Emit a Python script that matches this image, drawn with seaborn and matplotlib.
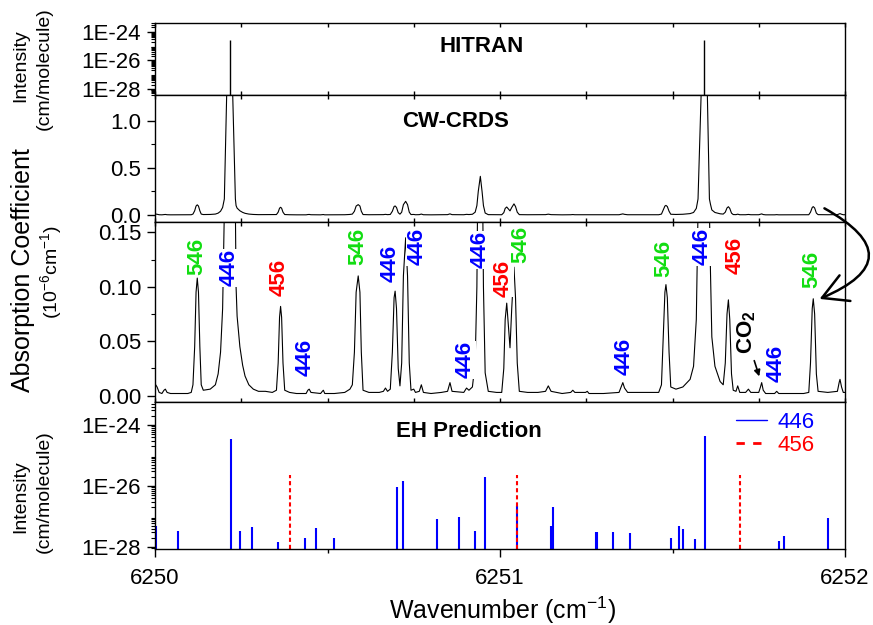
import numpy as np
import pandas as pd
import seaborn as sns
import matplotlib.pyplot as plt
from matplotlib import ticker
from matplotlib.lines import Line2D
from matplotlib.patches import FancyArrowPatch

# CW-CRDS trace, absorption coefficient in 1e-6 cm-1
spec_wn = [
    6250.000, 6250.006, 6250.012, 6250.020, 6250.026, 6250.030, 6250.035, 6250.045,
    6250.070, 6250.095, 6250.105, 6250.110, 6250.115, 6250.119, 6250.1225, 6250.126,
    6250.130, 6250.134, 6250.140, 6250.160, 6250.175, 6250.183, 6250.190, 6250.196,
    6250.201, 6250.2078, 6250.2165, 6250.2252, 6250.233, 6250.235, 6250.238, 6250.246,
    6250.254, 6250.261, 6250.272, 6250.285, 6250.300, 6250.320, 6250.340, 6250.352,
    6250.357, 6250.361, 6250.364, 6250.367, 6250.371, 6250.376, 6250.390, 6250.410,
    6250.438, 6250.443, 6250.447, 6250.452, 6250.480, 6250.485, 6250.488, 6250.492,
    6250.520, 6250.550, 6250.565, 6250.572, 6250.578, 6250.583, 6250.589, 6250.594,
    6250.598, 6250.603, 6250.620, 6250.650, 6250.662, 6250.668, 6250.674, 6250.682,
    6250.688, 6250.693, 6250.696, 6250.700, 6250.705, 6250.710, 6250.715, 6250.720,
    6250.7265, 6250.732, 6250.737, 6250.742, 6250.750, 6250.755, 6250.766, 6250.772,
    6250.778, 6250.800, 6250.830, 6250.848, 6250.855, 6250.861, 6250.895, 6250.903,
    6250.910, 6250.920, 6250.928, 6250.933, 6250.937, 6250.943, 6250.948, 6250.952,
    6250.957, 6250.966, 6250.990, 6251.005, 6251.011, 6251.015, 6251.0195, 6251.024,
    6251.029, 6251.034, 6251.0405, 6251.045, 6251.050, 6251.056, 6251.080, 6251.110,
    6251.132, 6251.140, 6251.148, 6251.180, 6251.205, 6251.211, 6251.217, 6251.248,
    6251.253, 6251.258, 6251.300, 6251.345, 6251.351, 6251.356, 6251.361, 6251.370,
    6251.420, 6251.460, 6251.468, 6251.474, 6251.478, 6251.481, 6251.485, 6251.490,
    6251.495, 6251.510, 6251.530, 6251.551, 6251.561, 6251.569, 6251.574, 6251.583,
    6251.592, 6251.601, 6251.607, 6251.610, 6251.614, 6251.623, 6251.638, 6251.647,
    6251.653, 6251.658, 6251.662, 6251.666, 6251.671, 6251.676, 6251.684, 6251.689,
    6251.695, 6251.712, 6251.720, 6251.727, 6251.750, 6251.755, 6251.7585, 6251.763,
    6251.770, 6251.796, 6251.802, 6251.808, 6251.880, 6251.895, 6251.900, 6251.905,
    6251.908, 6251.912, 6251.917, 6251.922, 6251.950, 6251.978, 6251.983, 6251.9855,
    6251.990, 6251.995, 6252.000,
]
spec_alpha = [
    0.011, 0.008, 0.003, 0.002, 0.005, 0.006, 0.003, 0.002,
    0.002, 0.002, 0.003, 0.010, 0.045, 0.095, 0.108, 0.095,
    0.045, 0.010, 0.005, 0.006, 0.010, 0.020, 0.040, 0.080,
    0.170, 1.280, 1.900, 1.280, 0.170, 0.100, 0.073, 0.045,
    0.028, 0.018, 0.010, 0.006, 0.004, 0.004, 0.003, 0.005,
    0.030, 0.072, 0.082, 0.072, 0.030, 0.005, 0.003, 0.002,
    0.002, 0.005, 0.006, 0.003, 0.002, 0.004, 0.005, 0.002,
    0.002, 0.003, 0.006, 0.010, 0.040, 0.095, 0.110, 0.095,
    0.040, 0.005, 0.003, 0.003, 0.004, 0.007, 0.004, 0.006,
    0.040, 0.090, 0.096, 0.080, 0.025, 0.009, 0.030, 0.110,
    0.145, 0.110, 0.030, 0.005, 0.006, 0.003, 0.004, 0.010,
    0.003, 0.002, 0.003, 0.004, 0.012, 0.004, 0.003, 0.007,
    0.005, 0.008, 0.030, 0.100, 0.250, 0.410, 0.250, 0.100,
    0.021, 0.004, 0.003, 0.003, 0.025, 0.070, 0.085, 0.065,
    0.044, 0.080, 0.118, 0.090, 0.030, 0.004, 0.003, 0.003,
    0.004, 0.009, 0.004, 0.002, 0.003, 0.005, 0.003, 0.003,
    0.004, 0.002, 0.002, 0.003, 0.008, 0.012, 0.007, 0.003,
    0.003, 0.003, 0.010, 0.060, 0.095, 0.102, 0.090, 0.040,
    0.008, 0.006, 0.008, 0.015, 0.027, 0.070, 0.170, 1.280,
    1.900, 1.280, 0.170, 0.115, 0.054, 0.027, 0.013, 0.010,
    0.030, 0.075, 0.088, 0.070, 0.020, 0.005, 0.004, 0.009,
    0.003, 0.003, 0.006, 0.003, 0.003, 0.008, 0.012, 0.005,
    0.002, 0.002, 0.004, 0.002, 0.002, 0.003, 0.030, 0.080,
    0.089, 0.075, 0.020, 0.004, 0.003, 0.004, 0.012, 0.015,
    0.008, 0.003, 0.003,
]

# HITRAN line list
hitran_wn = [6250.2175, 6251.5905]
hitran_int = [2.6e-25, 2.8e-25]

# EH prediction, 446 and 456 lines
eh446_wn = [
    6250.003, 6250.066, 6250.219, 6250.246, 6250.280, 6250.357, 6250.436, 6250.468,
    6250.519, 6250.702, 6250.719, 6250.818, 6250.881, 6250.927, 6250.957, 6251.049,
    6251.147, 6251.154, 6251.277, 6251.280, 6251.328, 6251.378, 6251.496, 6251.519,
    6251.530, 6251.566, 6251.593, 6251.809, 6251.824, 6251.952,
]
eh446_int = [
    4.7e-28, 3.2e-28, 3.5e-25, 3.3e-28, 4.4e-28, 1.4e-28, 1.9e-28, 4.1e-28,
    1.9e-28, 8.9e-27, 1.4e-26, 8.3e-28, 9.5e-28, 3.2e-28, 1.9e-26, 2.2e-27,
    4.7e-28, 2.0e-27, 3.1e-28, 3.0e-28, 3.0e-28, 2.8e-28, 1.9e-28, 5.0e-28,
    4.0e-28, 1.8e-28, 4.2e-25, 1.6e-28, 2.2e-28, 9.1e-28,
]
eh456_wn = [6250.390, 6251.049, 6251.695]
eh456_int = [2.2e-26, 2.2e-26, 2.2e-26]

# isotopologue assignments written over the expanded trace
label_iso = ['546', '446', '456', '446', '546', '446', '446', '446', '446',
             '456', '546', '446', '546', '446', '456', '446', '546']
label_wn = [6250.121, 6250.2154, 6250.3594, 6250.4348, 6250.5884, 6250.6812,
            6250.7585, 6250.8986, 6250.942, 6251.0096, 6251.060, 6251.359,
            6251.475, 6251.5846, 6251.681, 6251.799, 6251.905]
label_y = [0.1275, 0.1174, 0.1083, 0.0349, 0.1367, 0.1211, 0.1367, 0.0330,
           0.1340, 0.1080, 0.1385, 0.0358, 0.1257, 0.1367, 0.1284, 0.0294,
           0.1156]
iso_colors = {'446': '#0000ff', '456': '#ff0000', '546': '#11dd11'}

sns.set_theme(style='ticks')
plt.rcParams['font.family'] = ['Liberation Sans', 'DejaVu Sans']
plt.rcParams['mathtext.default'] = 'regular'
plt.rcParams['axes.linewidth'] = 1.0
for key in ['axes.edgecolor', 'text.color', 'axes.labelcolor',
            'xtick.color', 'ytick.color']:
    plt.rcParams[key] = 'black'

spec = pd.DataFrame({'wavenumber': spec_wn, 'alpha': spec_alpha})

W, H = 873, 625
fig = plt.figure(figsize=(W / 100, H / 100), dpi=100)


def box(top, bottom):
    return [155 / W, 1 - bottom / H, 690 / W, (bottom - top) / H]


ax_hit = fig.add_axes(box(23, 95))
ax_crds = fig.add_axes(box(95, 222))
ax_zoom = fig.add_axes(box(222, 402))
ax_eh = fig.add_axes(box(402, 549))
axes = [ax_hit, ax_crds, ax_zoom, ax_eh]

log_fmt = ticker.FuncFormatter(lambda v, p: f'1E{int(round(np.log10(v)))}')

# HITRAN
ax_hit.set_yscale('log')
ax_hit.vlines(hitran_wn, 10 ** -28.42, hitran_int, color='black', lw=1.0)
ax_hit.set_ylim(10 ** -28.42, 10 ** -23.39)
ax_hit.yaxis.set_major_locator(ticker.FixedLocator([1e-28, 1e-26, 1e-24]))
ax_hit.yaxis.set_major_formatter(log_fmt)
ax_hit.yaxis.set_minor_locator(ticker.LogLocator(subs=np.arange(2, 10), numticks=20))
ax_hit.yaxis.set_minor_formatter(ticker.NullFormatter())
ax_hit.text(0.474, 0.667, 'HITRAN', transform=ax_hit.transAxes, ha='center',
            va='center', fontsize=16, fontweight='bold')

# CW-CRDS, full scale
sns.lineplot(data=spec, x='wavenumber', y='alpha', ax=ax_crds, color='black',
             lw=0.8, estimator=None, sort=False)
ax_crds.set_ylim(-0.074, 1.272)
ax_crds.yaxis.set_major_locator(ticker.FixedLocator([0.0, 0.5, 1.0]))
ax_crds.yaxis.set_major_formatter(ticker.FormatStrFormatter('%.1f'))
ax_crds.yaxis.set_minor_locator(ticker.FixedLocator([0.25, 0.75]))
ax_crds.text(0.436, 0.795, 'CW-CRDS', transform=ax_crds.transAxes, ha='center',
             va='center', fontsize=16, fontweight='bold')

# CW-CRDS, expanded
sns.lineplot(data=spec, x='wavenumber', y='alpha', ax=ax_zoom, color='black',
             lw=0.8, estimator=None, sort=False)
ax_zoom.set_ylim(-0.0058, 0.1595)
ax_zoom.yaxis.set_major_locator(ticker.FixedLocator([0.0, 0.05, 0.10, 0.15]))
ax_zoom.yaxis.set_major_formatter(ticker.FormatStrFormatter('%.2f'))
ax_zoom.yaxis.set_minor_locator(ticker.FixedLocator([0.025, 0.075, 0.125]))
for iso, x, y in zip(label_iso, label_wn, label_y):
    ax_zoom.text(x, y, iso, rotation=90, ha='center', va='center', fontsize=16,
                 fontweight='bold', color=iso_colors[iso], zorder=5,
                 bbox=dict(facecolor='white', edgecolor='none', pad=0.5))
ax_zoom.text(6251.715, 0.0587, 'CO$_2$', rotation=90, ha='center', va='center',
             fontsize=16, fontweight='bold', color='black', zorder=5)
ax_zoom.annotate('', xy=(6251.754, 0.0153), xytext=(6251.7345, 0.0346),
                 arrowprops=dict(arrowstyle='-|>', color='black', lw=1.2,
                                 mutation_scale=9))

# EH prediction
ax_eh.set_yscale('log')
eh_bottom = 10 ** -28.07
ax_eh.vlines(eh446_wn, eh_bottom, eh446_int, color='#0000ff', lw=1.5)
ax_eh.vlines(eh456_wn, eh_bottom, eh456_int, color='#ff0000', lw=1.5,
             linestyles=(0, (2, 1.4)))
ax_eh.set_ylim(eh_bottom, 10 ** -23.25)
ax_eh.yaxis.set_major_locator(ticker.FixedLocator([1e-28, 1e-26, 1e-24]))
ax_eh.yaxis.set_major_formatter(log_fmt)
ax_eh.yaxis.set_minor_locator(ticker.LogLocator(subs=np.arange(2, 10), numticks=20))
ax_eh.yaxis.set_minor_formatter(ticker.NullFormatter())
ax_eh.text(0.455, 0.796, 'EH Prediction', transform=ax_eh.transAxes,
           ha='center', va='center', fontsize=16, fontweight='bold')
handles = [Line2D([], [], color='#0000ff', lw=1.0),
           Line2D([], [], color='#ff0000', lw=2.0, dashes=(3, 3))]
ax_eh.legend(handles, ['446', '456'], loc='upper left',
             bbox_to_anchor=((736 - 155) / 690, 1 - (412 - 402) / 147),
             frameon=False, fontsize=16, handlelength=1.4, handletextpad=0.45,
             labelspacing=0.1, borderpad=0, borderaxespad=0,
             labelcolor=['#0000ff', '#ff0000'])

for ax in axes:
    ax.set_xlim(6250, 6252)
    ax.set_xlabel('')
    ax.set_ylabel('')
    for s in ax.spines.values():
        s.set_visible(True)
        s.set_color('black')
        s.set_linewidth(1.0)
    ax.tick_params(axis='y', which='major', direction='out', length=6, width=1,
                   labelsize=16, pad=4)
    ax.tick_params(axis='y', which='minor', direction='out', length=3, width=0.8)
    if ax is ax_eh:
        ax.xaxis.set_major_locator(ticker.FixedLocator([6250, 6251, 6252]))
        ax.xaxis.set_major_formatter(ticker.FormatStrFormatter('%d'))
        ax.xaxis.set_minor_locator(ticker.FixedLocator([6250.5, 6251.5]))
        ax.tick_params(axis='x', which='major', direction='out', length=6,
                       width=1, labelbottom=True, top=False, labelsize=16, pad=8)
        ax.tick_params(axis='x', which='minor', direction='out', length=3,
                       width=1, top=False)
    else:
        ax.xaxis.set_major_locator(ticker.MultipleLocator(0.25))
        ax.xaxis.set_minor_locator(ticker.NullLocator())
        ax.tick_params(axis='x', which='major', direction='in', length=3,
                       width=1, labelbottom=False, top=True)

# axis titles
fig.text(21 / W, 1 - 66 / H, 'Intensity', rotation=90, ha='center', va='center',
         fontsize=14)
fig.text(44 / W, 1 - 69 / H, '(cm/molecule)', rotation=90, ha='center',
         va='center', fontsize=14)
fig.text(23 / W, 1 - 270 / H, 'Absorption Coefficient', rotation=90,
         ha='center', va='center', fontsize=18)
fig.text(51 / W, 1 - 272 / H, '(10$^{-6}$cm$^{-1}$)', rotation=90, ha='center',
         va='center', fontsize=14)
fig.text(21 / W, 1 - 497 / H, 'Intensity', rotation=90, ha='center',
         va='center', fontsize=14)
fig.text(44 / W, 1 - 492 / H, '(cm/molecule)', rotation=90, ha='center',
         va='center', fontsize=14)
fig.text(503 / W, 1 - 610 / H, 'Wavenumber (cm$^{-1}$)', ha='center',
         va='center', fontsize=18)

# curved arrow tying the full-scale trace to the expanded one
arrow = FancyArrowPatch((822 / W, 1 - 207 / H), (817 / W, 1 - 300 / H),
                        transform=fig.transFigure, connectionstyle='arc3,rad=-1.05',
                        arrowstyle='->,head_length=0.9,head_width=0.5',
                        mutation_scale=20, lw=1.8, color='black', clip_on=False)
fig.patches.append(arrow)

fig.savefig('out.png', dpi=100)
